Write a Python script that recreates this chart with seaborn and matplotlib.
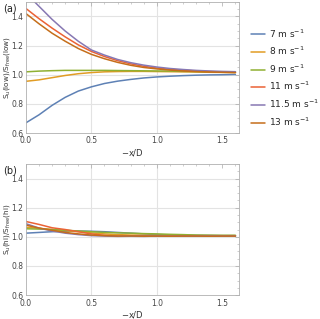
import matplotlib
matplotlib.use("Agg")
import matplotlib.pyplot as plt
import seaborn as sns
import pandas as pd
from matplotlib.ticker import MultipleLocator

# distance upstream, -x/D
x = [0.0, 0.1, 0.2, 0.3, 0.4, 0.5, 0.6, 0.7, 0.8, 0.9, 1.0, 1.1, 1.2, 1.3, 1.4, 1.5, 1.6]

labels = ["7 m s$^{-1}$", "8 m s$^{-1}$", "9 m s$^{-1}$", "11 m s$^{-1}$",
          "11.5 m s$^{-1}$", "13 m s$^{-1}$"]
colors = ["#5E81B5", "#E19C24", "#8FB032", "#EB6235", "#8778B3", "#C56E1A"]

# (a) Su(low)/Sfree(low)
low_7 = [0.67, 0.725, 0.79, 0.845, 0.888, 0.917, 0.94, 0.956, 0.968, 0.978, 0.985, 0.99, 0.994, 0.997, 0.999, 1.0, 1.002]
low_8 = [0.955, 0.965, 0.98, 0.995, 1.007, 1.015, 1.02, 1.022, 1.023, 1.023, 1.022, 1.021, 1.02, 1.019, 1.017, 1.016, 1.015]
low_9 = [1.02, 1.025, 1.028, 1.03, 1.03, 1.03, 1.03, 1.029, 1.028, 1.027, 1.026, 1.025, 1.023, 1.022, 1.02, 1.019, 1.018]
low_11 = [1.455, 1.385, 1.32, 1.26, 1.205, 1.16, 1.125, 1.097, 1.075, 1.058, 1.046, 1.037, 1.031, 1.026, 1.022, 1.019, 1.017]
low_115 = [1.56, 1.47, 1.38, 1.30, 1.23, 1.17, 1.135, 1.105, 1.083, 1.066, 1.053, 1.043, 1.036, 1.03, 1.026, 1.023, 1.021]
low_13 = [1.42, 1.35, 1.285, 1.23, 1.18, 1.14, 1.11, 1.085, 1.065, 1.05, 1.04, 1.032, 1.026, 1.022, 1.019, 1.017, 1.015]

# (b) Su(hi)/Sfree(hi)
hi_7 = [1.025, 1.03, 1.035, 1.038, 1.04, 1.038, 1.035, 1.03, 1.025, 1.02, 1.015, 1.013, 1.011, 1.01, 1.009, 1.008, 1.008]
hi_8 = [1.065, 1.058, 1.05, 1.042, 1.035, 1.027, 1.02, 1.015, 1.012, 1.011, 1.01, 1.009, 1.009, 1.008, 1.008, 1.008, 1.008]
hi_9 = [1.055, 1.053, 1.05, 1.045, 1.04, 1.035, 1.03, 1.027, 1.025, 1.022, 1.02, 1.017, 1.015, 1.012, 1.011, 1.01, 1.01]
hi_11 = [1.105, 1.085, 1.062, 1.05, 1.035, 1.02, 1.01, 1.005, 1.004, 1.006, 1.004, 1.005, 1.004, 1.005, 1.005, 1.004, 1.005]
hi_115 = [1.09, 1.06, 1.04, 1.025, 1.015, 1.008, 1.005, 1.003, 1.004, 1.003, 1.005, 1.004, 1.005, 1.004, 1.005, 1.005, 1.005]
hi_13 = [1.08, 1.06, 1.045, 1.03, 1.02, 1.012, 1.008, 1.005, 1.006, 1.004, 1.005, 1.004, 1.005, 1.005, 1.004, 1.005, 1.005]

low = [low_7, low_8, low_9, low_11, low_115, low_13]
hi = [hi_7, hi_8, hi_9, hi_11, hi_115, hi_13]


def long_df(series):
    rows = []
    for lab, vals in zip(labels, series):
        for xi, v in zip(x, vals):
            rows.append({"x": xi, "y": v, "U": lab})
    return pd.DataFrame(rows)


sns.set_style("white")
plt.rcParams["font.family"] = ["DejaVu Sans"]
plt.rcParams["mathtext.default"] = "regular"

fig = plt.figure(figsize=(3.2, 3.19), dpi=100)
ax1 = fig.add_axes([0.081, 0.583, 0.667, 0.411])
ax2 = fig.add_axes([0.081, 0.075, 0.667, 0.411])

pal = dict(zip(labels, colors))
sns.lineplot(data=long_df(low), x="x", y="y", hue="U", palette=pal, ax=ax1, lw=1.1)
sns.lineplot(data=long_df(hi), x="x", y="y", hue="U", palette=pal, ax=ax2, lw=1.1,
             legend=False)

handles, labs = ax1.get_legend_handles_labels()
ax1.get_legend().remove()
fig.legend(handles, labs, loc="upper left", bbox_to_anchor=(0.783, 0.915),
           frameon=False, fontsize=6.5, handlelength=1.6, handletextpad=0.45,
           labelspacing=0.58, borderaxespad=0, borderpad=0)

ylabels = [r"$S_u$(low)/$S_{free}$(low)", r"$S_u$(hi)/$S_{free}$(hi)"]
for ax, tag, yl in zip([ax1, ax2], ["(a)", "(b)"], ylabels):
    ax.set_xlim(0, 1.63)
    ax.set_ylim(0.6, 1.5)
    ax.xaxis.set_major_locator(MultipleLocator(0.5))
    ax.xaxis.set_minor_locator(MultipleLocator(0.1))
    ax.yaxis.set_major_locator(MultipleLocator(0.2))
    ax.yaxis.set_minor_locator(MultipleLocator(0.05))
    ax.set_xticks([0.0, 0.5, 1.0, 1.5])
    ax.set_xticklabels(["0.0", "0.5", "1.0", "1.5"])
    ax.set_yticks([0.6, 0.8, 1.0, 1.2, 1.4])
    ax.set_yticklabels(["0.6", "0.8", "1.0", "1.2", "1.4"])
    for g in [0.5, 1.0]:
        ax.axvline(g, color="#e3e3e3", lw=0.8, zorder=0)
    for g in [0.8, 1.0, 1.2, 1.4]:
        ax.axhline(g, color="#e3e3e3", lw=0.8, zorder=0)
    ax.tick_params(which="both", direction="in", top=True, right=True,
                   colors="#aaaaaa", labelcolor="#444444", labelsize=5.5)
    ax.tick_params(axis="x", pad=2.5)
    ax.tick_params(axis="y", pad=2)
    ax.tick_params(which="major", length=3, width=0.5)
    ax.tick_params(which="minor", length=1.5, width=0.4)
    for s in ax.spines.values():
        s.set_color("#b0b0b0")
        s.set_linewidth(0.6)
    ax.set_xlabel("$-x/D$", fontsize=6, color="#333333")
    ax.xaxis.set_label_coords(0.5, -0.105)
    ax.set_ylabel(yl, fontsize=5.2, color="#333333")
    ax.yaxis.set_label_coords(-0.066, 0.5)
    ax.text(-0.075, 0.985, tag, transform=ax.transAxes, fontsize=7,
            ha="center", va="top", color="#222222")

fig.savefig("out.png", dpi=100)
